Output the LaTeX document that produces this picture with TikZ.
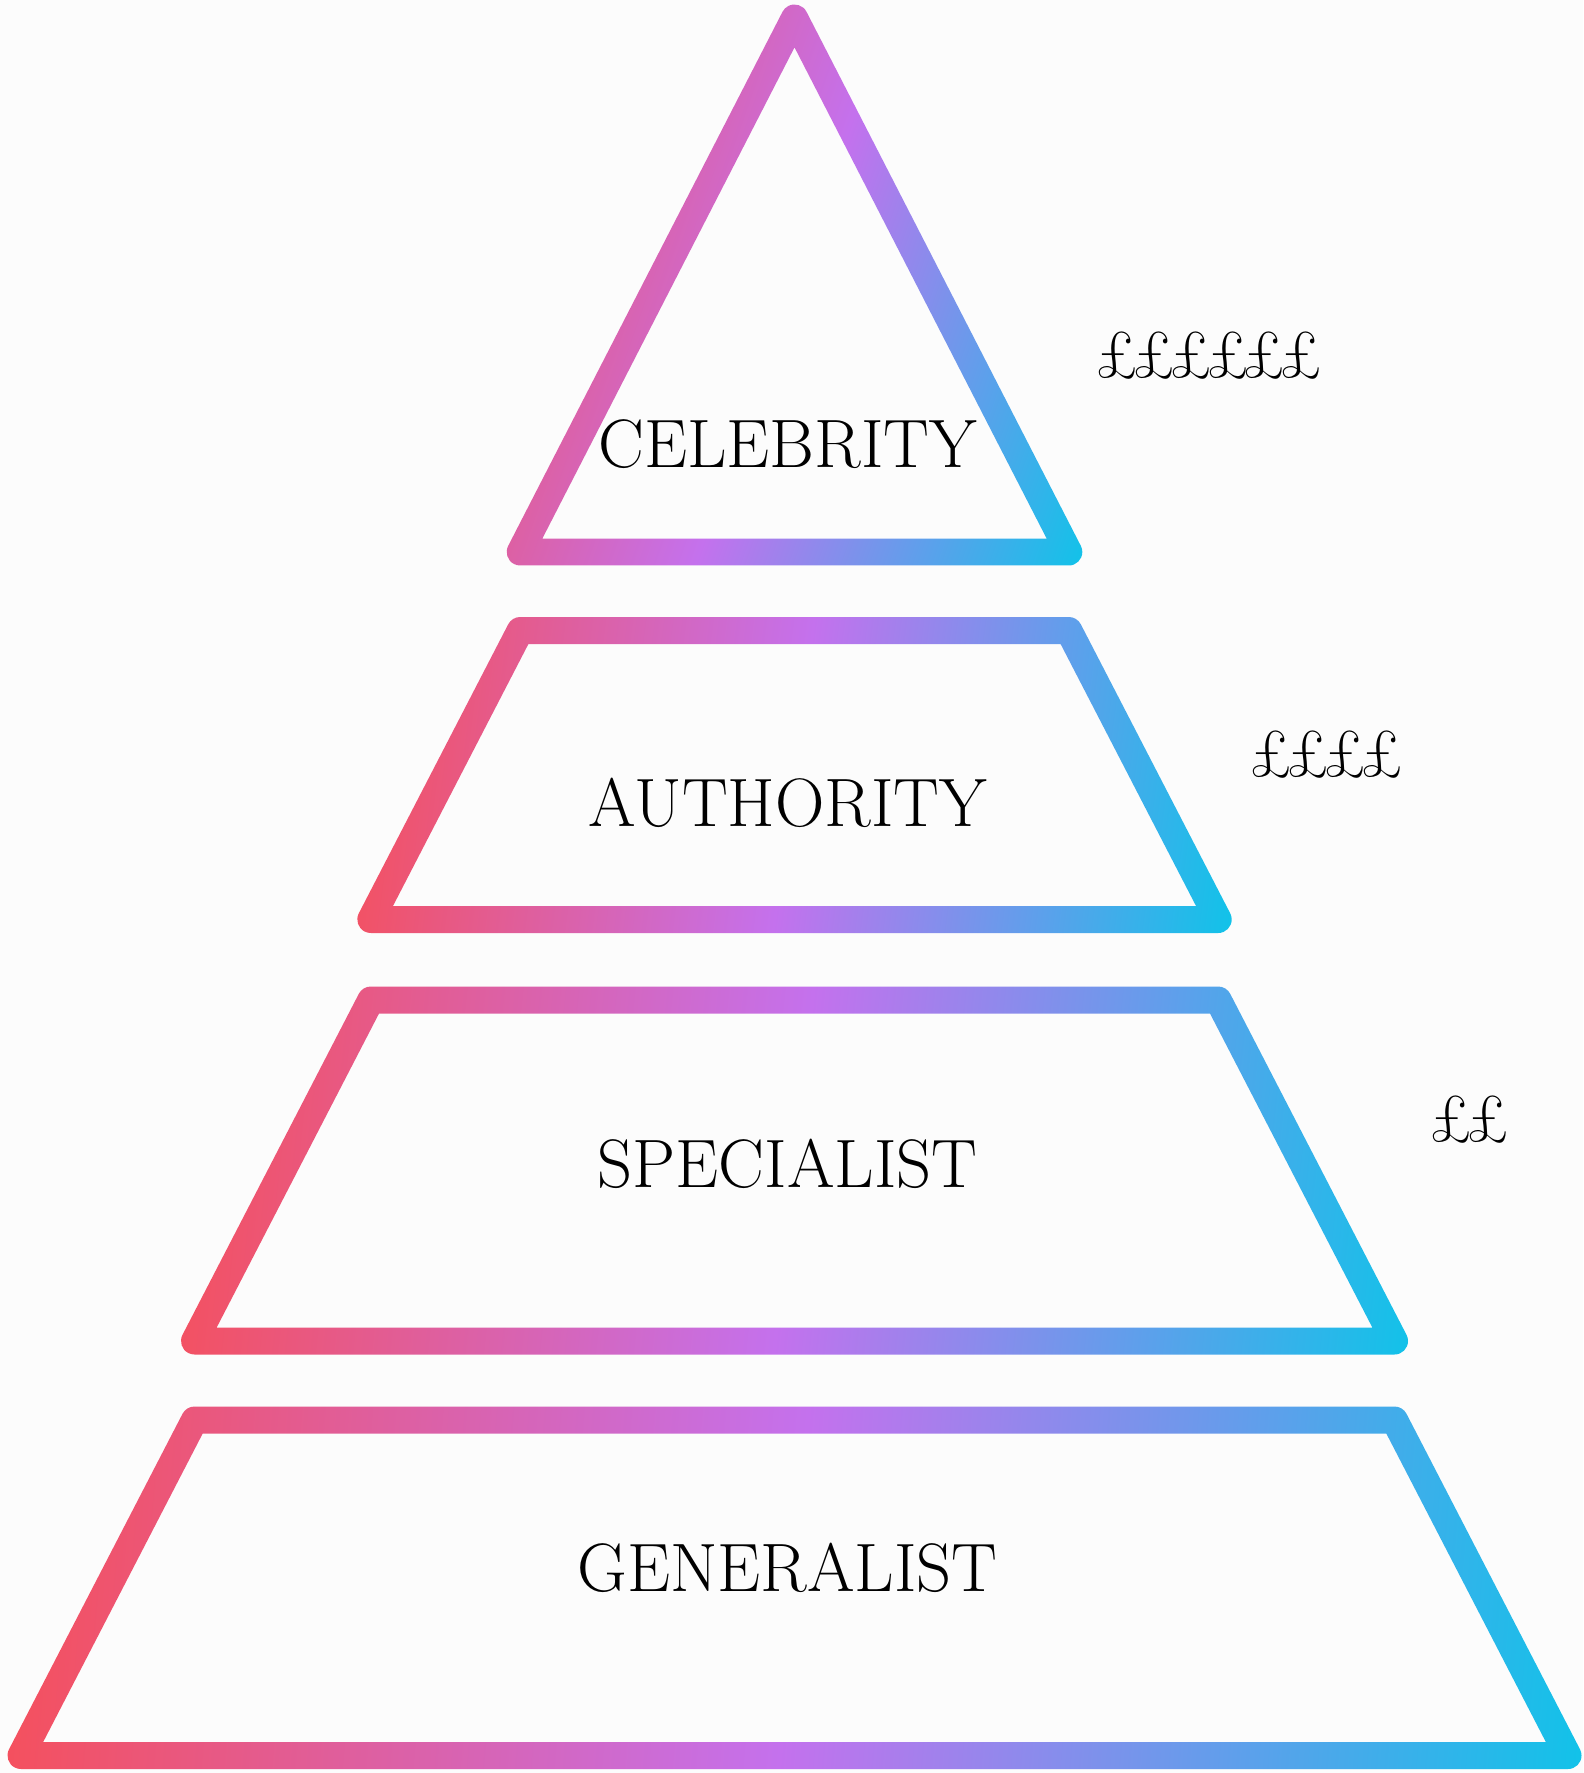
\documentclass[tikz,border=0pt]{standalone}
\usepackage{graphicx}
\usepackage{tikz}
\usetikzlibrary{calc}
\usepackage{xcolor}
\definecolor{tierred}{HTML}{F64F59}
\definecolor{tierviolet}{HTML}{C471ED}
\definecolor{tiercyan}{HTML}{12C2E9}
\definecolor{pagebg}{HTML}{FCFCFC}

% red - violet - cyan ramps, the ends pulled in so each tier's box corners get the end colours
\pgfdeclarehorizontalshading{celshade}{100bp}{color(0bp)=(tierred); color(18.1bp)=(tierred);
  color(50bp)=(tierviolet); color(81.9bp)=(tiercyan); color(100bp)=(tiercyan)}
\pgfdeclarehorizontalshading{authshade}{100bp}{color(0bp)=(tierred); color(22bp)=(tierred);
  color(50bp)=(tierviolet); color(78bp)=(tiercyan); color(100bp)=(tiercyan)}
\pgfdeclarehorizontalshading{specshade}{100bp}{color(0bp)=(tierred); color(22.4bp)=(tierred);
  color(50bp)=(tierviolet); color(77.6bp)=(tiercyan); color(100bp)=(tiercyan)}
\pgfdeclarehorizontalshading{genshade}{100bp}{color(0bp)=(tierred); color(23bp)=(tierred);
  color(50bp)=(tierviolet); color(77bp)=(tiercyan); color(100bp)=(tiercyan)}

% centre line and half the stroke width of the outlines
\newcommand\midx{794.5}
\newcommand\joinr{0.27cm}
% one pound sign, a bit narrower and pulled close to the next
\newcommand\lb{\scalebox{0.94}[1]{\pounds}\kern-0.099em}

% one trapezoid tier: name, top y, bottom y, top half width, bottom half width, shading angle
\newcommand\tier[6]{%
  \coordinate (#1-tl) at (\midx-#4,#2);
  \coordinate (#1-tr) at (\midx+#4,#2);
  \coordinate (#1-br) at (\midx+#5,#3);
  \coordinate (#1-bl) at (\midx-#5,#3);
  \shade[even odd rule, shading=#1shade, shading angle=#6]
    ($(#1-bl)+(-90:\joinr)$) -- ($(#1-br)+(-90:\joinr)$)
      arc[start angle=-90, end angle=27.34, radius=\joinr]
    -- ($(#1-tr)+(27.34:\joinr)$)
      arc[start angle=27.34, end angle=90, radius=\joinr]
    -- ($(#1-tl)+(90:\joinr)$)
      arc[start angle=90, end angle=152.66, radius=\joinr]
    -- ($(#1-bl)+(152.66:\joinr)$)
      arc[start angle=152.66, end angle=270, radius=\joinr] -- cycle
    ($(#1-tl)+(8.22,13.5)$) -- ($(#1-tr)+(-8.22,13.5)$)
    -- ($(#1-br)+(-22.18,-13.5)$) -- ($(#1-bl)+(22.18,-13.5)$) -- cycle;
}

\begin{document}
\begin{tikzpicture}[x=0.02cm, y=-0.02cm,
    tiername/.style={anchor=base, inner sep=0pt,
                     font=\fontsize{39}{46}\selectfont},
    price/.style={anchor=base west, inner sep=0pt,
                  font=\fontsize{38}{46}\selectfont}]
  \fill[pagebg] (0,0) rectangle (1583,1773);

  % top tier is a triangle
  \coordinate (cel-apex) at (\midx,18);
  \coordinate (cel-bl) at (\midx-274.3,552);
  \coordinate (cel-br) at (\midx+274.3,552);
  \shade[even odd rule, shading=celshade, shading angle=-19.4]
    ($(cel-bl)+(-90:\joinr)$) -- ($(cel-br)+(-90:\joinr)$)
      arc[start angle=-90, end angle=27.34, radius=\joinr]
    -- ($(cel-apex)+(27.34:\joinr)$)
      arc[start angle=27.34, end angle=152.66, radius=\joinr]
    -- ($(cel-bl)+(152.66:\joinr)$)
      arc[start angle=152.66, end angle=270, radius=\joinr] -- cycle
    ($(cel-apex)+(0,29.4)$) -- ($(cel-br)+(-22.18,-13.5)$)
    -- ($(cel-bl)+(22.18,-13.5)$) -- cycle;

  \tier{auth}{630.5}{919.5}{274.3}{423.7}{-7.5}
  \tier{spec}{1000}{1341}{423.7}{600}{-6.2}
  \tier{gen}{1420}{1755.5}{600}{773.5}{-4.8}

  \node[tiername] (celebrity) at (787.5,468) {CELEBRITY};
  \node[tiername] (authority) at (788,826) {AUTHORITY};
  \node[tiername] (specialist) at (787.5,1187) {SPECIALIST};
  \node[tiername] (generalist) at (787.5,1591) {GENERALIST};

  \node[price] (cel-price) at (1095,378) {\lb\lb\lb\lb\lb\lb};
  \node[price] (auth-price) at (1249,776) {\lb\lb\lb\lb};
  \node[price] (spec-price) at (1429,1141) {\lb\lb};
\end{tikzpicture}
\end{document}
